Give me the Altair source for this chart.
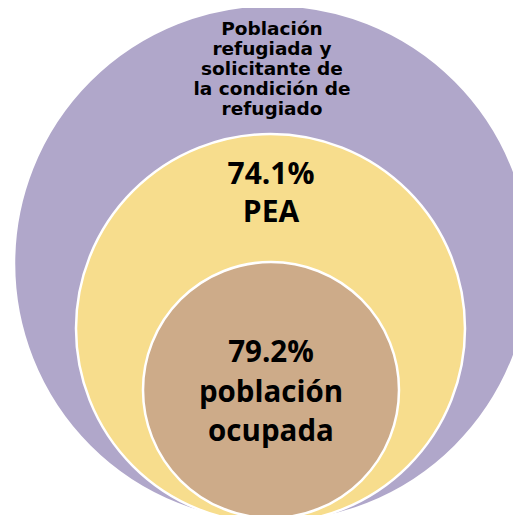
import altair as alt
import pandas as pd

# Data
groups = ["Población refugiada y solicitante de la condición de refugiado", "PEA", "población ocupada"]
shares = [None, 74.1, 79.2]
colors = ["#B0A7CA", "#F7DD8D", "#CDAB89"]

# Layout (drawing coordinates, px)
W, H = 505, 507
cx = [264.5, 262.5, 263.0]
cy = [255.5, 320.5, 382.0]
radius = [258.5, 194.5, 128.0]

circles = pd.DataFrame({
    "group": groups,
    "cx": cx,
    "cy": cy,
    # Vega circle symbol: size is the area of the bounding square
    "area": [(2 * r) ** 2 for r in radius],
    "color": colors,
    "order": [0, 1, 2],
})

labels = pd.DataFrame({
    "text": [
        "Población\nrefugiada y\nsolicitante de\nla condición de\nrefugiado",
        f"{shares[1]}%\nPEA",
        f"{shares[2]}%\npoblación\nocupada",
    ],
    "x": [264, 263, 263],
    "y": [21, 167, 345],
})

xs = alt.Scale(domain=[0, W], nice=False, zero=False)
ys = alt.Scale(domain=[0, H], reverse=True, nice=False, zero=False)

circ = alt.Chart(circles).mark_circle(opacity=1, stroke="white", strokeWidth=2.5).encode(
    x=alt.X("cx:Q", scale=xs, axis=None),
    y=alt.Y("cy:Q", scale=ys, axis=None),
    size=alt.Size("area:Q", scale=None, legend=None),
    color=alt.Color("color:N", scale=None, legend=None),
    order=alt.Order("order:Q"),
)

top = alt.Chart(labels.iloc[[0]]).mark_text(
    font="DejaVu Sans", fontWeight="bold", fontSize=18.5, lineBreak="\n",
    lineHeight=20, baseline="middle", align="center", color="black",
).encode(x=alt.X("x:Q", scale=xs), y=alt.Y("y:Q", scale=ys), text="text:N")

mid = alt.Chart(labels.iloc[[1]]).mark_text(
    font="Open Sans", fontWeight="bold", fontSize=30, lineBreak="\n",
    lineHeight=38, baseline="middle", align="center", color="black",
).encode(x=alt.X("x:Q", scale=xs), y=alt.Y("y:Q", scale=ys), text="text:N")

low = alt.Chart(labels.iloc[[2]]).mark_text(
    font="Open Sans", fontWeight="bold", fontSize=29.5, lineBreak="\n",
    lineHeight=39.5, baseline="middle", align="center", color="black",
).encode(x=alt.X("x:Q", scale=xs), y=alt.Y("y:Q", scale=ys), text="text:N")

chart = alt.layer(circ, top, mid, low).properties(
    width=W, height=H, padding=0, autosize=alt.AutoSizeParams(type="none")
).configure_view(stroke=None)

chart.save("out.html", embed_options={"renderer": "svg", "actions": False})
